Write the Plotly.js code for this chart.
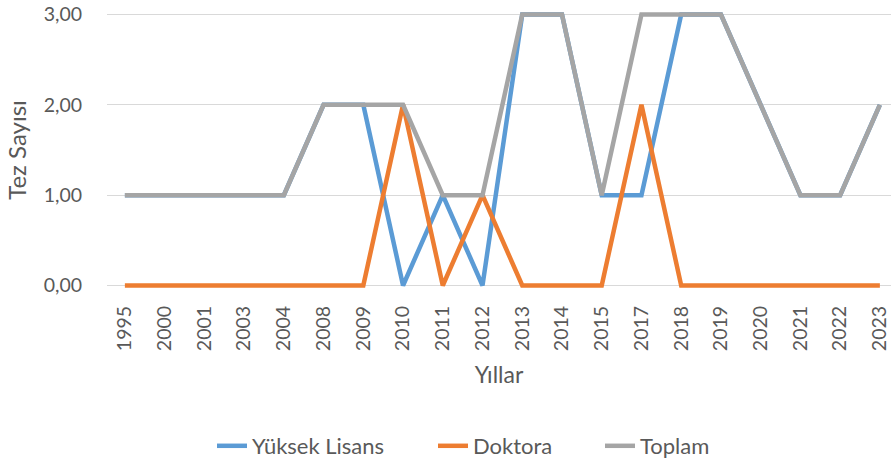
<!DOCTYPE html>
<html><head><meta charset="utf-8">
<script src="https://cdn.plot.ly/plotly-3.0.1.min.js"></script>
<style>html,body{margin:0;padding:0;background:#fff}</style>
</head><body><div id="chart" style="width:891px;height:460px"></div>
<script>
const years = ["1995","2000","2001","2003","2004","2008","2009","2010","2011","2012","2013","2014","2015","2017","2018","2019","2020","2021","2022","2023"];
const yuksekLisans = [1,1,1,1,1,2,2,0,1,0,3,3,1,1,3,3,2,1,1,2];
const doktora = [0,0,0,0,0,0,0,2,0,1,0,0,0,2,0,0,0,0,0,0];
const toplam = [1,1,1,1,1,2,2,2,1,1,3,3,1,3,3,3,2,1,1,2];
const yTicks = [0,1,2,3];

const font = "Lato, 'Open Sans', sans-serif";
const txt = '#595959';
const mk = (name, y, color, lg) => ({
  type: 'scatter', mode: 'lines', name: name, x: years, y: y, legend: lg,
  line: {color: color, width: 4.5}, hoverinfo: 'skip'
});
const data = [
  mk('Yüksek Lisans', yuksekLisans, '#5B9BD5', 'legend'),
  mk('Doktora', doktora, '#ED7D31', 'legend2'),
  mk('Toplam', toplam, '#A5A5A5', 'legend3')
];
const lg = (x) => ({
  orientation: 'h', x: x, xref: 'container', xanchor: 'left',
  y: 1 - 446/460, yref: 'container', yanchor: 'middle',
  font: {family: font, size: 22, color: txt}, bgcolor: 'rgba(0,0,0,0)'
});
const layout = {
  width: 891, height: 460,
  margin: {l: 107, r: 0, t: 10, b: 170},
  paper_bgcolor: '#fff', plot_bgcolor: '#fff',
  separators: ',.',
  font: {family: font, size: 18, color: txt},
  showlegend: true,
  legend: lg(212/891),
  legend2: lg(433/891),
  legend3: lg(600/891),
  xaxis: {
    type: 'category', range: [-0.45, 19.28],
    showgrid: false, zeroline: false, showline: false, ticks: '',
    tickangle: -90, ticklabelstandoff: 11,
    tickfont: {family: font, size: 19.5, color: txt},
    title: {text: 'Yıllar', font: {family: font, size: 23, color: txt}, standoff: 16}
  },
  yaxis: {
    range: [-0.05, 3.05], tickvals: yTicks, tickformat: '.2f',
    showgrid: true, gridcolor: '#d9d9d9', gridwidth: 1.3, zeroline: false, showline: false, ticks: '',
    ticklabelstandoff: 24,
    tickfont: {family: font, size: 19.5, color: txt},
    title: {text: 'Tez Sayısı', font: {family: font, size: 24, color: txt}, standoff: 10}
  }
};
Plotly.newPlot('chart', data, layout, {displayModeBar: false, staticPlot: true});
</script></body></html>
